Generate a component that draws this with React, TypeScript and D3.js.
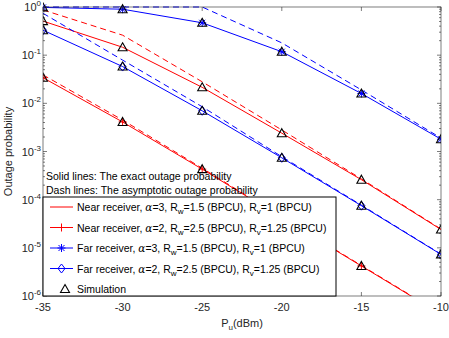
import React, { useRef, useEffect } from "react";
import { select, scaleLinear, scaleLog, line } from "d3";

// x axis: transmit power P_u (dBm)
const powerDbm = [-35, -30, -25, -20, -15, -10];
const yTickExps = [0, -1, -2, -3, -4, -5, -6];

// exact outage probability (solid) and asymptotic (dashed)
const nearA3 = [0.51, 0.146, 0.0215, 0.0024, 2.6e-4, 2.4e-5];
const nearA3Asym = [0.87, 0.26, 0.028, 0.0028, 2.7e-4, 2.45e-5];
const nearA2 = [0.034, 0.0041, 4.3e-4, 4.2e-5, 4.2e-6, 4.2e-7];
const nearA2Asym = [0.039, 0.0045, 4.5e-4, 4.3e-5, 4.3e-6, 4.3e-7];
const farA3 = [0.98, 0.9, 0.47, 0.118, 0.016, 0.0018];
const farA3Asym = [1, 1, 1, 0.18, 0.019, 0.0019];
const farA2 = [0.33, 0.058, 0.007, 7.4e-4, 7.5e-5, 7.3e-6];
const farA2Asym = [0.74, 0.079, 0.0085, 7.8e-4, 7.7e-5, 7.4e-6];

const FONT = "'Liberation Sans', Arial, Helvetica, sans-serif";
const RED = "#ff0000";
const BLUE = "#0000ff";

function App() {
  const svgRef = useRef(null);

  useEffect(() => {
    const svg = select(svgRef.current);
    svg.selectAll("*").remove();

    const left = 43, right = 441, top = 7, bottom = 296;
    const x = scaleLinear().domain([-35, -10]).range([left, right]);
    const y = scaleLog().domain([1e-6, 1]).range([bottom, top]);

    svg.append("defs").append("clipPath").attr("id", "plotclip")
      .append("rect").attr("x", left).attr("y", top - 5)
      .attr("width", right - left).attr("height", bottom - top + 5);

    const g = svg.append("g").attr("clip-path", "url(#plotclip)");
    const path = line<number>().x((d, i) => x(powerDbm[i])).y(d => y(d));

    const series = [
      { exact: nearA3, asym: nearA3Asym, color: RED, marker: "none" },
      { exact: nearA2, asym: nearA2Asym, color: RED, marker: "plus" },
      { exact: farA3, asym: farA3Asym, color: BLUE, marker: "star" },
      { exact: farA2, asym: farA2Asym, color: BLUE, marker: "diamond" },
    ];

    const drawMarker = (sel, kind, cx, cy, color) => {
      if (kind === "plus") {
        sel.append("path").attr("d", `M${cx - 4},${cy}H${cx + 4}M${cx},${cy - 4}V${cy + 4}`)
          .attr("stroke", color).attr("fill", "none")
      } else if (kind === "star") {
        sel.append("path")
          .attr("d", `M${cx - 4},${cy}H${cx + 4}M${cx},${cy - 4}V${cy + 4}M${cx - 3},${cy - 3}L${cx + 3},${cy + 3}M${cx - 3},${cy + 3}L${cx + 3},${cy - 3}`)
          .attr("stroke", color).attr("fill", "none")
      } else if (kind === "diamond") {
        sel.append("path").attr("d", `M${cx},${cy - 4.5}L${cx + 3.5},${cy}L${cx},${cy + 4.5}L${cx - 3.5},${cy}Z`)
          .attr("stroke", color).attr("fill", "none")
      } else if (kind === "triangle") {
        sel.append("path").attr("d", `M${cx},${cy - 4.5}L${cx + 4.5},${cy + 3.5}L${cx - 4.5},${cy + 3.5}Z`)
          .attr("stroke", color).attr("stroke-width", 1.1).attr("fill", "none")
      }
    };

    series.forEach(s => {
      g.append("path").attr("d", path(s.asym)).attr("fill", "none")
        .attr("stroke", s.color).attr("stroke-width", 1).attr("stroke-dasharray", "6,4");
      g.append("path").attr("d", path(s.exact)).attr("fill", "none")
        .attr("stroke", s.color).attr("stroke-width", 1);
      s.exact.forEach((v, i) => drawMarker(g, s.marker, x(powerDbm[i]), y(v), s.color));
    });
    // simulation points
    series.forEach(s => {
      s.exact.forEach((v, i) => {
        if (v >= 1e-6) drawMarker(g, "triangle", x(powerDbm[i]), y(v), "#000");
      });
    });

    // axes box and ticks
    const axis = svg.append("g").attr("stroke", "#262626").attr("stroke-width", 0.6);
    axis.append("rect").attr("x", left).attr("y", top).attr("width", right - left)
      .attr("height", bottom - top).attr("fill", "none");
    powerDbm.forEach(p => {
      axis.append("line").attr("x1", x(p)).attr("x2", x(p)).attr("y1", bottom).attr("y2", bottom - 4);
      axis.append("line").attr("x1", x(p)).attr("x2", x(p)).attr("y1", top).attr("y2", top + 4);
    });
    yTickExps.forEach(e => {
      const yy = y(Math.pow(10, e));
      axis.append("line").attr("x1", left).attr("x2", left + 4).attr("y1", yy).attr("y2", yy);
      axis.append("line").attr("x1", right).attr("x2", right - 4).attr("y1", yy).attr("y2", yy);
      if (e > -6) {
        for (let m = 2; m < 10; m++) {
          const ym = y(m * Math.pow(10, e - 1));
          axis.append("line").attr("x1", left).attr("x2", left + 2).attr("y1", ym).attr("y2", ym);
          axis.append("line").attr("x1", right).attr("x2", right - 2).attr("y1", ym).attr("y2", ym);
        }
      }
    });

    const labels = svg.append("g").attr("font-family", FONT).attr("fill", "#262626");
    powerDbm.forEach(p => {
      labels.append("text").attr("x", x(p)).attr("y", bottom + 15).attr("text-anchor", "middle")
        .attr("font-size", 11).text(p);
    });
    yTickExps.forEach(e => {
      const t = labels.append("text").attr("x", 41).attr("y", y(Math.pow(10, e)) + 4)
        .attr("text-anchor", "end").attr("font-size", 11);
      t.append("tspan").text("10");
      t.append("tspan").attr("font-size", 8).attr("dy", -5).text(e);
    });
    labels.append("text").attr("transform", `translate(12,${(top + bottom) / 2}) rotate(-90)`)
      .attr("text-anchor", "middle").attr("font-size", 11).text("Outage probability");
    const xl = labels.append("text").attr("x", 242).attr("y", 327).attr("text-anchor", "middle").attr("font-size", 11);
    xl.append("tspan").text("P");
    xl.append("tspan").attr("font-size", 8).attr("dy", 3).text("u");
    xl.append("tspan").attr("dy", -3).text("(dBm)");

    // annotation text
    const note = svg.append("g").attr("font-family", FONT).attr("font-size", 10.5).attr("fill", "#000");
    note.append("text").attr("x", 46).attr("y", 180).text("Solid lines: The exact outage probability");
    note.append("text").attr("x", 46).attr("y", 194).text("Dash lines: The asymptotic outage probability");

    // legend
    const lg = svg.append("g");
    lg.append("rect").attr("x", left).attr("y", 197).attr("width", 336 - left).attr("height", bottom - 197)
      .attr("fill", "#fff").attr("stroke", "#000").attr("stroke-width", 1);
    const entries = [
      { who: "Near", a: "3", rw: "1.5", rv: "1", color: RED, marker: "none" },
      { who: "Near", a: "2", rw: "2.5", rv: "1.25", color: RED, marker: "plus" },
      { who: "Far", a: "3", rw: "1.5", rv: "1", color: BLUE, marker: "star" },
      { who: "Far", a: "2", rw: "2.5", rv: "1.25", color: BLUE, marker: "diamond" },
    ];
    entries.forEach((en, i) => {
      const yy = 207 + i * 20.5;
      lg.append("line").attr("x1", 50).attr("x2", 73).attr("y1", yy).attr("y2", yy)
        .attr("stroke", en.color).attr("stroke-width", 1);
      drawMarker(lg, en.marker, 61.5, yy, en.color);
      const t = lg.append("text").attr("x", 77).attr("y", yy + 4).attr("font-family", FONT)
        .attr("font-size", 10.5).attr("fill", "#000");
      t.append("tspan").text(`${en.who} receiver, `);
      t.append("tspan").attr("font-family", "'DejaVu Serif', serif").attr("font-style", "italic").text("α");
      t.append("tspan").text(`=${en.a}, R`);
      t.append("tspan").attr("font-size", 8).attr("dy", 3).text("w");
      t.append("tspan").attr("dy", -3).text(`=${en.rw} (BPCU), R`);
      t.append("tspan").attr("font-size", 8).attr("dy", 3).text("v");
      t.append("tspan").attr("dy", -3).text(`=${en.rv} (BPCU)`);
    });
    drawMarker(lg, "triangle", 65, 289, "#000");
    lg.append("text").attr("x", 77).attr("y", 293).attr("font-family", FONT)
      .attr("font-size", 10.5).attr("fill", "#000").text("Simulation");
  }, []);

  return (
    <div style={{ position: "absolute", left: 0, top: 0 }}>
      <svg ref={svgRef} width={449} height={338} style={{ display: "block", background: "#fff" }}></svg>
    </div>
  );
}

export default App;
